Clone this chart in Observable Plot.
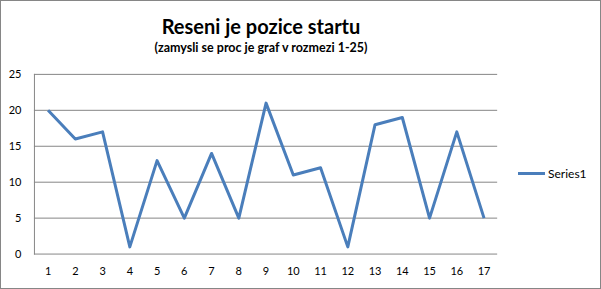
<!DOCTYPE html>
<html><head><meta charset="utf-8">
<script src="https://cdn.jsdelivr.net/npm/d3@7"></script>
<script src="https://cdn.jsdelivr.net/npm/@observablehq/plot@0.6"></script>
<style>
html,body{margin:0;padding:0;background:#fff;}
#wrap{position:relative;width:601px;height:289px;box-sizing:border-box;border:1px solid #868686;overflow:hidden;font-family:Lato,"Open Sans",sans-serif;}
#chart{position:absolute;left:-1px;top:-1px;}
.title{position:absolute;left:0;width:520px;text-align:center;font-weight:bold;color:#000;white-space:nowrap;}
#t1{top:13px;font-size:20px;}
#t2{top:39px;font-size:12.5px;}
#legend{position:absolute;left:517px;top:165px;font-size:12px;color:#000;display:flex;align-items:center;}
#legend .sw{display:inline-block;width:27px;height:0;border-top:3px solid #4A7EBB;margin-right:3px;}
</style></head>
<body>
<div id="wrap">
  <div id="chart"></div>
  <div class="title" id="t1">Reseni je pozice startu</div>
  <div class="title" id="t2">(zamysli se proc je graf v rozmezi 1-25)</div>
  <div id="legend"><span class="sw"></span><span>Series1</span></div>
</div>
<script>
const categories = [1,2,3,4,5,6,7,8,9,10,11,12,13,14,15,16,17];
const series1 = [20,16,17,1,13,5,14,5,21,11,12,1,18,19,5,17,5];
const yTicks = [0,5,10,15,20,25];
const seriesName = "Series1";

const data = categories.map((c,i)=>({cat:c, val:series1[i]}));

const chart = Plot.plot({
  width: 601,
  height: 289,
  marginLeft: 34,
  marginRight: 103,
  marginTop: 74,
  marginBottom: 35,
  style: {fontFamily: "Lato, 'Open Sans', sans-serif", fontSize: "11px", color: "#000", background: "transparent"},
  x: {type: "point", domain: categories, padding: 0.5, align: 0.5, round: false, label: null},
  y: {domain: [0,25], ticks: yTicks, label: null},
  marks: [
    Plot.ruleY(yTicks, {stroke: "#868686", strokeWidth: 1, strokeOpacity: 1}),
    Plot.frame({anchor: "left", stroke: "#868686", strokeOpacity: 1}),
    Plot.axisY({ticks: yTicks, tickSize: 0, tickPadding: 13, label: null}),
    Plot.axisX({tickSize: 0, tickPadding: 13, label: null}),
    Plot.line(data, {x: "cat", y: "val", stroke: "#4A7EBB", strokeWidth: 3, strokeLinejoin: "round", strokeLinecap: "butt"})
  ]
});
document.getElementById("chart").appendChild(chart);
</script>
</body></html>
